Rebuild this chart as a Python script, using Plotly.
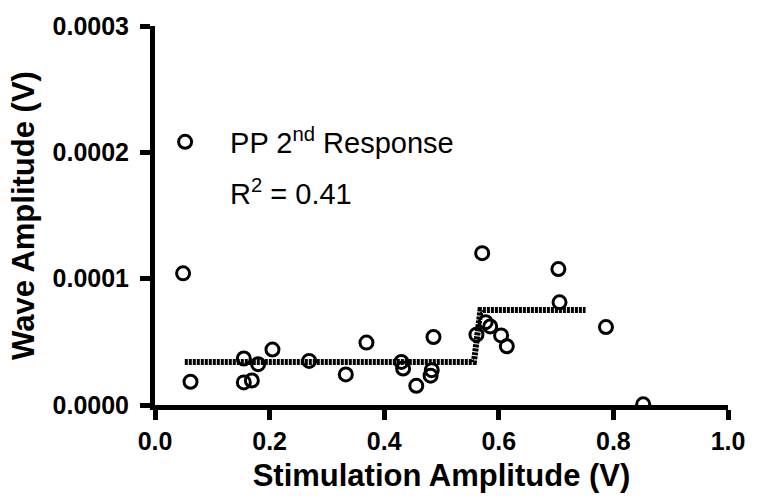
import plotly.graph_objects as go

# Data
stim_amp = [0.049, 0.062, 0.155, 0.155, 0.169, 0.180, 0.205, 0.269, 0.333, 0.369,
            0.430, 0.433, 0.456, 0.486, 0.483, 0.481, 0.561, 0.571, 0.577, 0.585,
            0.604, 0.614, 0.704, 0.706, 0.787, 0.852]
wave_amp = [0.0001042, 0.0000184, 0.0000368, 0.0000179, 0.0000194, 0.0000323, 0.0000439,
            0.0000349, 0.0000242, 0.0000494, 0.0000341, 0.0000289, 0.0000152, 0.0000538,
            0.0000276, 0.0000232, 0.0000557, 0.0001202, 0.0000656, 0.0000622, 0.0000551,
            0.0000465, 0.0001076, 0.0000813, 0.0000617, 0.0000005]

fit_x = [0.052, 0.5566, 0.568, 0.7514]
fit_y = [0.0000340, 0.0000340, 0.0000752, 0.0000752]

x_ticks = [0.0, 0.2, 0.4, 0.6, 0.8, 1.0]
y_ticks = [0.0, 0.0001, 0.0002, 0.0003]

series_name = "PP 2<sup>nd</sup> Response"
r2_text = "R<sup>2</sup> = 0.41"

FONT = "Liberation Sans, Arial, sans-serif"

fig = go.Figure()
fig.add_trace(go.Scatter(
    x=fit_x, y=fit_y, mode="lines", showlegend=False,
    line=dict(color="black", width=6, dash="3px,1px"),
    hoverinfo="skip",
))
fig.add_trace(go.Scatter(
    x=stim_amp, y=wave_amp, mode="markers", name=series_name,
    marker=dict(symbol="circle-open", size=13, color="black",
                line=dict(color="black", width=3)),
))

fig.update_layout(
    width=757, height=502,
    margin=dict(l=155, r=24, t=23, b=97),
    paper_bgcolor="white", plot_bgcolor="white",
    font=dict(family=FONT, color="black"),
    showlegend=True,
    legend=dict(x=-0.026, y=0.694, xanchor="left", yanchor="middle",
                font=dict(family=FONT, size=29, color="black"),
                bgcolor="rgba(0,0,0,0)", borderwidth=0, itemwidth=80),
    xaxis=dict(
        range=[0, 1.0], tickvals=x_ticks, tickformat=".1f",
        showline=True, linecolor="black", linewidth=5,
        ticks="outside", ticklen=10, tickwidth=5, tickcolor="black",
        showgrid=False, zeroline=False,
        tickfont=dict(family=FONT, size=25, color="black", weight="bold"),
        title=dict(text="Stimulation Amplitude (V)", standoff=12,
                   font=dict(family=FONT, size=31, color="black", weight="bold")),
    ),
    yaxis=dict(
        range=[0, 0.0003], tickvals=y_ticks, tickformat=".4f",
        showline=True, linecolor="black", linewidth=5,
        ticks="outside", ticklen=10, tickwidth=5, tickcolor="black",
        showgrid=False, zeroline=False, ticklabelstandoff=6,
        tickfont=dict(family=FONT, size=25, color="black", weight="bold"),
        title=dict(text="Wave Amplitude (V)", standoff=10,
                   font=dict(family=FONT, size=31, color="black", weight="bold")),
    ),
    annotations=[dict(
        text=r2_text, xref="paper", yref="paper",
        x=(229 - 155) / 578, y=(405 - 190) / 382,
        xanchor="left", yanchor="middle", showarrow=False,
        font=dict(family=FONT, size=29, color="black"),
    )],
)

fig.write_html("out.html", config={"displayModeBar": False},
               post_script="document.body.style.margin='0';")
